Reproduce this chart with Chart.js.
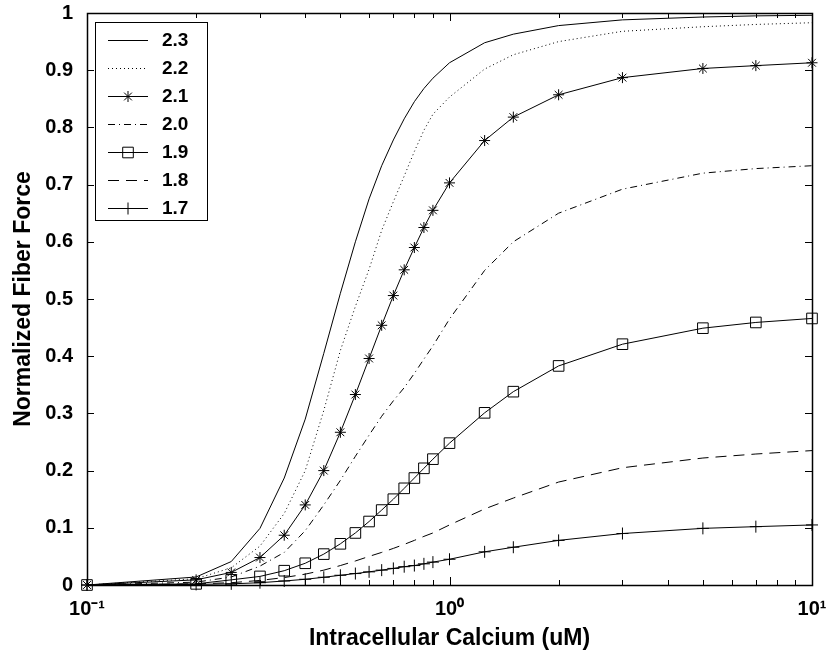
<!DOCTYPE html>
<html lang="en">
<head>
<meta charset="UTF-8">
<title>Fiber force vs calcium</title>
<style>
  body { margin: 0; background: #fff; }
  #wrap { position: relative; width: 829px; height: 656px; }
  #legend {
    position: absolute; box-sizing: border-box; width: 113px; height: 199px;
    border: 1px solid #000; background: #fff; padding: 3px 0 0 12px;
    font: bold 19px "Liberation Sans", Arial, sans-serif; color: #000;
  }
  .row { display: flex; align-items: center; height: 28px; }
  .row canvas { margin-right: 14px; }
</style>
</head>
<body>
<div id="wrap">
  <canvas id="chart" width="829" height="656"></canvas>
  <div id="legend"></div>
</div>
<script src="https://cdn.jsdelivr.net/npm/chart.js@4.4.1/dist/chart.umd.min.js"></script>
<script>
// intracellular calcium (uM)
const calcium = [0.1, 0.2, 0.25, 0.3, 0.35, 0.4, 0.45, 0.5, 0.55, 0.6, 0.65, 0.7,
                 0.75, 0.8, 0.85, 0.9, 1.0, 1.25, 1.5, 2, 3, 5, 7, 10];

// normalized fiber force, one array per curve
const force23 = [0, 0.014, 0.041, 0.099, 0.187, 0.29, 0.405, 0.51, 0.60, 0.675, 0.733, 0.778,
                 0.815, 0.845, 0.868, 0.886, 0.913, 0.948, 0.963, 0.978, 0.988, 0.993, 0.995, 0.996];
const force22 = [0, 0.011, 0.03, 0.068, 0.125, 0.2, 0.305, 0.41, 0.487, 0.552, 0.62, 0.67,
                 0.715, 0.758, 0.795, 0.823, 0.853, 0.902, 0.927, 0.95, 0.968, 0.976, 0.98, 0.983];
const force21 = [0, 0.009, 0.022, 0.048, 0.087, 0.14, 0.2, 0.267, 0.333, 0.396, 0.454, 0.506,
                 0.551, 0.59, 0.625, 0.655, 0.703, 0.777, 0.818, 0.857, 0.887, 0.903, 0.908, 0.913];
const force20 = [0, 0.005, 0.014, 0.033, 0.057, 0.095, 0.14, 0.183, 0.225, 0.262, 0.295, 0.322,
                 0.345, 0.37, 0.395, 0.418, 0.465, 0.55, 0.6, 0.65, 0.692, 0.72, 0.728, 0.733];
const force19 = [0, 0.002, 0.009, 0.015, 0.025, 0.038, 0.054, 0.072, 0.091, 0.111, 0.131, 0.15,
                 0.169, 0.187, 0.204, 0.22, 0.248, 0.301, 0.338, 0.383, 0.421, 0.449, 0.459, 0.466];
const force18 = [0, 0.002, 0.004, 0.008, 0.013, 0.019, 0.026, 0.034, 0.042, 0.05, 0.057, 0.064,
                 0.071, 0.078, 0.085, 0.091, 0.105, 0.133, 0.152, 0.18, 0.205, 0.222, 0.229, 0.235];
const force17 = [0, 0.001, 0.002, 0.004, 0.007, 0.01, 0.0135, 0.017, 0.02, 0.023, 0.026, 0.029,
                 0.032, 0.034, 0.037, 0.04, 0.045, 0.058, 0.066, 0.078, 0.09, 0.099, 0.102, 0.105];

const seriesLabels = ['2.3', '2.2', '2.1', '2.0', '1.9', '1.8', '1.7'];
const seriesValues = [force23, force22, force21, force20, force19, force18, force17];

// tick labels
const xTickValues = [0.1, 1, 10];
const xTickLabels = ['10\u207B\u00B9', '10\u2070', '10\u00B9'];
const xMinorTicks = [0.2, 0.3, 0.4, 0.5, 0.6, 0.7, 0.8, 0.9, 2, 3, 4, 5, 6, 7, 8, 9];

// line style / marker per curve
const styles = [
  { dash: [],            marker: false,   radius: 0 },
  { dash: [1, 3],        marker: false,   radius: 0 },
  { dash: [],            marker: 'star',  radius: 5.5 },
  { dash: [7, 4, 1, 4],  marker: false,   radius: 0 },
  { dash: [],            marker: 'rect',  radius: 7.5 },
  { dash: [11, 7],       marker: false,   radius: 0 },
  { dash: [],            marker: 'cross', radius: 6 }
];

const FONT = '"Liberation Sans", Arial, sans-serif';
Chart.defaults.font.family = FONT;
Chart.defaults.font.weight = 'bold';
Chart.defaults.color = '#000';

const datasets = seriesLabels.map((lab, i) => ({
  label: lab,
  data: calcium.map((c, j) => ({ x: c, y: seriesValues[i][j] })),
  borderColor: '#000',
  borderWidth: 1,
  borderDash: styles[i].dash,
  pointStyle: styles[i].marker || 'circle',
  pointRadius: styles[i].radius,
  pointBorderColor: '#000',
  pointBorderWidth: 1,
  pointBackgroundColor: 'rgba(0,0,0,0)',
  tension: 0,
  fill: false,
  clip: false
}));

// box + inward tick marks like the original figure
const frame = {
  id: 'frame',
  beforeDatasetsDraw(chart) {
    const { ctx, chartArea: a, scales: { x, y } } = chart;
    ctx.save();
    ctx.strokeStyle = '#000';
    ctx.lineWidth = 1;
    ctx.beginPath();
    for (let v = 0; v <= 1.0001; v += 0.1) {
      const py = Math.round(y.getPixelForValue(v)) + 0.5;
      ctx.moveTo(a.left, py); ctx.lineTo(a.left + 7, py);
      ctx.moveTo(a.right, py); ctx.lineTo(a.right - 7, py);
    }
    xTickValues.concat(xMinorTicks).forEach(v => {
      const px = Math.round(x.getPixelForValue(v)) + 0.5;
      const len = xTickValues.includes(v) ? 8 : 5;
      ctx.moveTo(px, a.bottom); ctx.lineTo(px, a.bottom - len);
      ctx.moveTo(px, a.top); ctx.lineTo(px, a.top + len);
    });
    ctx.stroke();
    ctx.lineWidth = 1.5;
    ctx.strokeRect(Math.round(a.left) + 0.5, Math.round(a.top) + 0.5,
                   Math.round(a.right - a.left), Math.round(a.bottom - a.top));
    ctx.restore();
  }
};

// keep label overhang from shrinking the plot area
function noOverhang(s) {
  s.paddingTop = 0; s.paddingBottom = 0; s.paddingLeft = 0; s.paddingRight = 0;
}

const chart = new Chart(document.getElementById('chart'), {
  type: 'line',
  data: { datasets },
  options: {
    responsive: false,
    animation: false,
    layout: { padding: { top: 13, right: 17, left: 0, bottom: 0 } },
    plugins: { legend: { display: false }, tooltip: { enabled: false } },
    scales: {
      x: {
        type: 'logarithmic',
        min: 0.1,
        max: 10,
        grid: { display: false, drawTicks: false },
        border: { display: false },
        afterBuildTicks: s => { s.ticks = xTickValues.map(v => ({ value: v })); },
        afterFit: s => { s.height = 71; noOverhang(s); },
        ticks: {
          autoSkip: false,
          maxRotation: 0,
          padding: 12,
          font: { size: 20, weight: 'bold' },
          callback: v => xTickLabels[xTickValues.indexOf(v)]
        },
        title: {
          display: true,
          text: 'Intracellular Calcium (uM)',
          font: { size: 23, weight: 'bold' },
          padding: { top: 0, bottom: 4 }
        }
      },
      y: {
        min: 0,
        max: 1,
        grid: { display: false, drawTicks: false },
        border: { display: false },
        afterFit: s => { s.width = 87; noOverhang(s); },
        ticks: {
          stepSize: 0.1,
          padding: 14,
          font: { size: 20, weight: 'bold' },
          callback: v => String(+v.toFixed(1))
        },
        title: {
          display: true,
          text: 'Normalized Fiber Force',
          font: { size: 23, weight: 'bold' },
          padding: { top: 10, bottom: 0 }
        }
      }
    }
  },
  plugins: [frame]
});

// legend inside the plot, top-left
function drawMarker(ctx, type, x, y, r) {
  ctx.beginPath();
  if (type === 'rect') {
    const h = r * Math.SQRT1_2;
    ctx.rect(x - h, y - h, 2 * h, 2 * h);
  } else {
    const angles = type === 'star' ? [0, 45, 90, 135] : [0, 90];
    angles.forEach(d => {
      const t = d * Math.PI / 180;
      ctx.moveTo(x - Math.cos(t) * r, y - Math.sin(t) * r);
      ctx.lineTo(x + Math.cos(t) * r, y + Math.sin(t) * r);
    });
  }
  ctx.stroke();
}

const legend = document.getElementById('legend');
legend.style.left = (chart.chartArea.left + 8) + 'px';
legend.style.top = (chart.chartArea.top + 9) + 'px';
seriesLabels.forEach((lab, i) => {
  const row = document.createElement('div');
  row.className = 'row';
  const c = document.createElement('canvas');
  c.width = 40; c.height = 16;
  const g = c.getContext('2d');
  g.strokeStyle = '#000';
  g.lineWidth = 1;
  g.setLineDash(styles[i].dash);
  g.beginPath(); g.moveTo(0, 8.5); g.lineTo(40, 8.5); g.stroke();
  g.setLineDash([]);
  if (styles[i].marker) drawMarker(g, styles[i].marker, 20, 8.5, styles[i].radius);
  const span = document.createElement('span');
  span.textContent = lab;
  row.appendChild(c);
  row.appendChild(span);
  legend.appendChild(row);
});
</script>
</body>
</html>
